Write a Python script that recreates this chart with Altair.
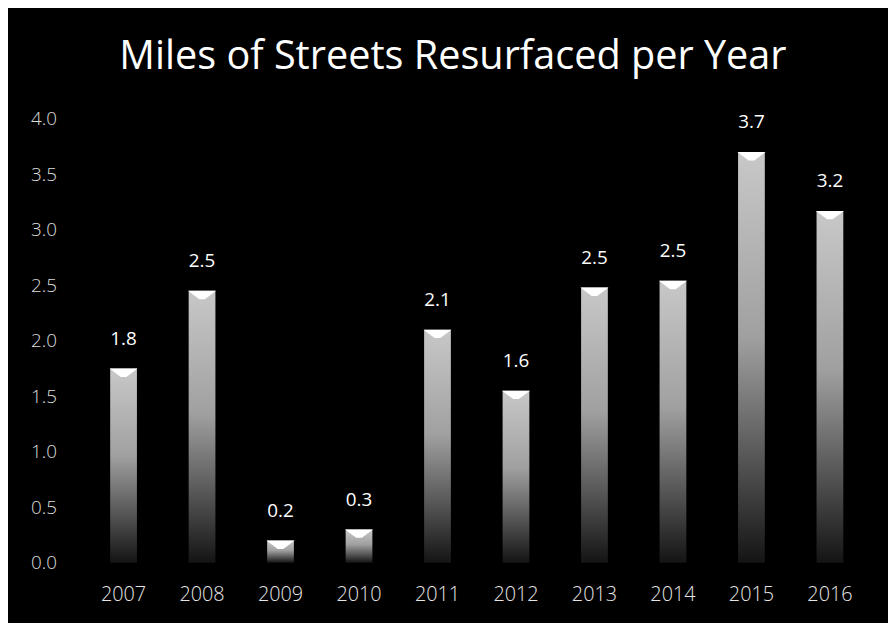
import altair as alt
import pandas as pd

years = ["2007", "2008", "2009", "2010", "2011", "2012", "2013", "2014", "2015", "2016"]
miles = [1.75, 2.45, 0.2, 0.3, 2.1, 1.55, 2.48, 2.54, 3.7, 3.17]
labels = ["1.8", "2.5", "0.2", "0.3", "2.1", "1.6", "2.5", "2.5", "3.7", "3.2"]

df = pd.DataFrame({"year": years, "miles": miles, "label": labels})

FONT = "Open Sans"

x = alt.X("year:N", sort=years, title=None,
          axis=alt.Axis(labelAngle=0, labelFontSize=20, labelColor="#e6e6e6",
                        labelFont=FONT, labelFontWeight=300, labelPadding=22,
                        ticks=False, domain=False, grid=False))
y = alt.Y("miles:Q", title=None,
          scale=alt.Scale(domain=[0, 4], nice=False),
          axis=alt.Axis(values=[0, 0.5, 1, 1.5, 2, 2.5, 3, 3.5, 4], format=".1f",
                        labelFontSize=19, labelColor="#dcdcdc", labelFont=FONT,
                        labelFontWeight=300, labelPadding=28,
                        ticks=False, domain=False, grid=False))

gradient = alt.Gradient(
    gradient="linear",
    stops=[alt.GradientStop(color="#c8c8c8", offset=0),
           alt.GradientStop(color="#a0a0a0", offset=0.45),
           alt.GradientStop(color="#555555", offset=0.75),
           alt.GradientStop(color="#141414", offset=1)],
    x1=0, x2=0, y1=0, y2=1,
)

bars = alt.Chart(df).mark_bar(size=27, color=gradient).encode(x=x, y=y)

caps = alt.Chart(df).mark_point(
    shape="M-1,0 L1,0 L0.2,0.6 L-0.2,0.6 Z", size=800, filled=True,
    color="#ffffff", opacity=1, strokeWidth=0
).encode(x=x, y=y)

text = alt.Chart(df).mark_text(
    dy=-30, fontSize=19, font=FONT, color="#ffffff"
).encode(x=x, y=y, text="label:N")

chart = alt.layer(bars, caps, text).properties(
    width=792, height=448,
    background="#000000",
    padding={"left": 77, "top": 109, "right": 19, "bottom": 58},
    autosize=alt.AutoSizeParams(type="none"),
    title=alt.TitleParams("Miles of Streets Resurfaced per Year", fontSize=40,
                          font=FONT, fontWeight="normal", color="#ffffff",
                          anchor="middle", offset=33, dx=-24),
).configure_view(stroke=None)

chart.save("out.html", embed_options={"renderer": "svg", "actions": False})
